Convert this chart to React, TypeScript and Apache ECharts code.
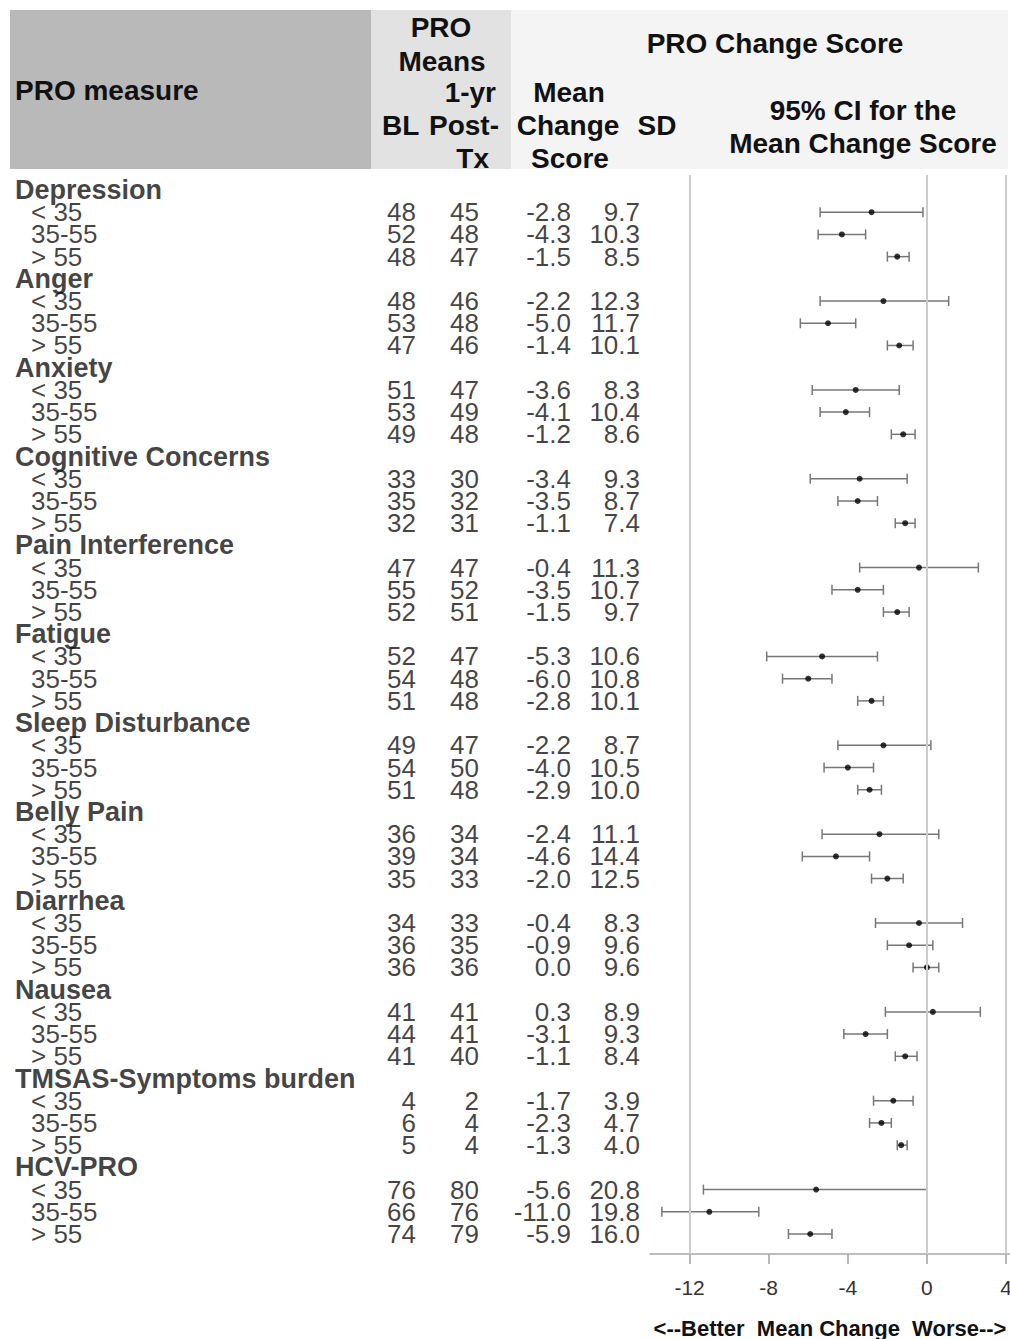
import React, { useEffect, useRef } from "react";
import * as echarts from "echarts";

// ---------- data ----------
const groups = [
  "Depression",
  "Anger",
  "Anxiety",
  "Cognitive Concerns",
  "Pain Interference",
  "Fatigue",
  "Sleep Disturbance",
  "Belly Pain",
  "Diarrhea",
  "Nausea",
  "TMSAS-Symptoms burden",
  "HCV-PRO",
];
const ageBands = ["< 35", "35-55", "> 55"];

const blMeans = [
  48, 52, 48, 48, 53, 47, 51, 53, 49, 33, 35, 32, 47, 55, 52, 52, 54, 51,
  49, 54, 51, 36, 39, 35, 34, 36, 36, 41, 44, 41, 4, 6, 5, 76, 66, 74,
];
const postMeans = [
  45, 48, 47, 46, 48, 46, 47, 49, 48, 30, 32, 31, 47, 52, 51, 47, 48, 48,
  47, 50, 48, 34, 34, 33, 33, 35, 36, 41, 41, 40, 2, 4, 4, 80, 76, 79,
];
const meanChange = [
  -2.8, -4.3, -1.5, -2.2, -5.0, -1.4, -3.6, -4.1, -1.2, -3.4, -3.5, -1.1,
  -0.4, -3.5, -1.5, -5.3, -6.0, -2.8, -2.2, -4.0, -2.9, -2.4, -4.6, -2.0,
  -0.4, -0.9, 0.0, 0.3, -3.1, -1.1, -1.7, -2.3, -1.3, -5.6, -11.0, -5.9,
];
const sdChange = [
  9.7, 10.3, 8.5, 12.3, 11.7, 10.1, 8.3, 10.4, 8.6, 9.3, 8.7, 7.4, 11.3,
  10.7, 9.7, 10.6, 10.8, 10.1, 8.7, 10.5, 10.0, 11.1, 14.4, 12.5, 8.3, 9.6,
  9.6, 8.9, 9.3, 8.4, 3.9, 4.7, 4.0, 20.8, 19.8, 16.0,
];
const ciLower = [
  -5.4, -5.5, -2.0, -5.4, -6.4, -2.0, -5.8, -5.4, -1.8, -5.9, -4.5, -1.6,
  -3.4, -4.8, -2.2, -8.1, -7.3, -3.5, -4.5, -5.2, -3.5, -5.3, -6.3, -2.8,
  -2.6, -2.0, -0.7, -2.1, -4.2, -1.6, -2.7, -2.9, -1.5, -11.3, -13.4, -7.0,
];
const ciUpper = [
  -0.2, -3.1, -0.9, 1.1, -3.6, -0.7, -1.4, -2.9, -0.6, -1.0, -2.5, -0.6,
  2.6, -2.2, -0.9, -2.5, -4.8, -2.2, 0.2, -2.7, -2.3, 0.6, -2.9, -1.2,
  1.8, 0.3, 0.6, 2.7, -2.0, -0.5, -0.7, -1.8, -1.0, 0.0, -8.5, -4.8,
];
const xTickValues = [-12, -8, -4, 0, 4];
const refLines = [-12, 0, 4];
const axisTitle = "<--Better  Mean Change  Worse-->";

// ---------- layout ----------
const FONT = "'Liberation Sans', Arial, Helvetica, sans-serif";
const Y_MIN = -0.675;
const Y_MAX = 47.9;
const GRID_TOP = 175;
const GRID_BOTTOM = 85;

// table rows built from arrays
const headerRows: any[] = [];
const subRows: any[] = [];
const blRows: any[] = [];
const postRows: any[] = [];
const meanRows: any[] = [];
const sdRows: any[] = [];
const ciRows: any[] = [];
const dotRows: any[] = [];
groups.forEach((g, gi) => {
  const hr = gi * 4;
  headerRows.push([15, hr, g]);
  ageBands.forEach((a, ai) => {
    const idx = gi * 3 + ai;
    const r = hr + 1 + ai;
    subRows.push([31, r, a]);
    blRows.push([416, r, String(blMeans[idx])]);
    postRows.push([479, r, String(postMeans[idx])]);
    meanRows.push([571, r, meanChange[idx].toFixed(1)]);
    sdRows.push([640, r, sdChange[idx].toFixed(1)]);
    ciRows.push([ciLower[idx], ciUpper[idx], r]);
    dotRows.push([meanChange[idx], r]);
  });
});

function textSeries(data: any[], pos: string, bold: boolean, size: number) {
  return {
    type: "scatter",
    xAxisIndex: 0,
    yAxisIndex: 0,
    symbolSize: 0,
    silent: true,
    data,
    label: {
      show: true,
      position: pos,
      distance: 0,
      formatter: (p: any) => p.data[2],
      fontFamily: FONT,
      fontSize: size,
      fontWeight: bold ? "bold" : "normal",
      color: "#111",
    },
  };
}

function hText(text: string, x: number, y: number, align: string) {
  return {
    type: "text",
    x,
    y,
    silent: true,
    style: {
      text,
      align,
      verticalAlign: "middle",
      fontFamily: FONT,
      fontSize: 28,
      fontWeight: "bold",
      fill: "#111",
    },
  };
}

export default function App() {
  const ref = useRef<HTMLDivElement>(null);
  useEffect(() => {
    if (!ref.current) return;
    const chart = echarts.init(ref.current, undefined, { renderer: "svg" });
    const option: any = {
      animation: false,
      backgroundColor: "#ffffff",
      grid: [
        { left: 0, top: GRID_TOP, width: 650, bottom: GRID_BOTTOM, outerBoundsMode: "none", containLabel: false },
        { left: 650, top: GRID_TOP, width: 360, bottom: GRID_BOTTOM, outerBoundsMode: "none", containLabel: false },
      ],
      xAxis: [
        { gridIndex: 0, type: "value", min: 0, max: 650, show: false },
        {
          gridIndex: 1,
          type: "value",
          min: -14,
          max: 4.2,
          splitLine: { show: false },
          axisLine: {
            show: true,
            onZero: false,
            lineStyle: { color: "#a8a8a8", width: 1.5 },
          },
          axisTick: {
            show: true,
            length: 10,
            customValues: xTickValues,
            lineStyle: { color: "#a0a0a0", width: 1.5 },
          },
          axisLabel: {
            customValues: xTickValues,
            fontFamily: FONT,
            fontSize: 21,
            color: "#333",
            margin: 23,
          },
          name: axisTitle,
          nameLocation: "middle",
          nameGap: 63,
          nameTextStyle: {
            fontFamily: FONT,
            fontSize: 22,
            fontWeight: "bold",
            color: "#111",
          },
        },
      ],
      yAxis: [
        { gridIndex: 0, type: "value", min: Y_MIN, max: Y_MAX, inverse: true, show: false },
        { gridIndex: 1, type: "value", min: Y_MIN, max: Y_MAX, inverse: true, show: false },
      ],
      graphic: [
        { type: "rect", shape: { x: 10, y: 10, width: 361, height: 159 }, style: { fill: "#b9b9b9" }, silent: true, z: -1 },
        { type: "rect", shape: { x: 371, y: 10, width: 140, height: 159 }, style: { fill: "#e2e2e2" }, silent: true, z: -1 },
        { type: "rect", shape: { x: 511, y: 10, width: 497, height: 159 }, style: { fill: "#f4f4f4" }, silent: true, z: -1 },
        hText("PRO measure", 15, 90, "left"),
        hText("PRO", 441, 27, "center"),
        hText("Means", 442, 61, "center"),
        hText("1-yr", 496, 92, "right"),
        hText("BL", 382, 125, "left"),
        hText("Post-", 499, 125, "right"),
        hText("Tx", 489, 158, "right"),
        hText("Mean", 569, 92, "center"),
        hText("Change", 568, 125, "center"),
        hText("Score", 570, 158, "center"),
        hText("SD", 657, 125, "center"),
        hText("PRO Change Score", 775, 43, "center"),
        hText("95% CI for the", 863, 110, "center"),
        hText("Mean Change Score", 863, 143, "center"),
      ],
      series: [
        textSeries(headerRows, "right", true, 27),
        textSeries(subRows, "right", false, 26),
        textSeries(blRows, "left", false, 26),
        textSeries(postRows, "left", false, 26),
        textSeries(meanRows, "left", false, 26),
        textSeries(sdRows, "left", false, 26),
        {
          type: "custom",
          xAxisIndex: 1,
          yAxisIndex: 1,
          silent: true,
          z: 3,
          data: ciRows,
          encode: { x: [0, 1], y: 2 },
          renderItem: (_params: any, api: any) => {
            const lo = api.coord([api.value(0), api.value(2)]);
            const hi = api.coord([api.value(1), api.value(2)]);
            const h = 5;
            const style = { stroke: "#777777", lineWidth: 1.5 };
            return {
              type: "group",
              children: [
                { type: "line", shape: { x1: lo[0], y1: lo[1], x2: hi[0], y2: hi[1] }, style },
                { type: "line", shape: { x1: lo[0], y1: lo[1] - h, x2: lo[0], y2: lo[1] + h }, style },
                { type: "line", shape: { x1: hi[0], y1: hi[1] - h, x2: hi[0], y2: hi[1] + h }, style },
              ],
            };
          },
          markLine: {
            silent: true,
            symbol: ["none", "none"],
            label: { show: false },
            lineStyle: { color: "#cccccc", width: 2, type: "solid" },
            data: refLines.map((v) => ({ xAxis: v })),
          },
        },
        {
          type: "scatter",
          xAxisIndex: 1,
          yAxisIndex: 1,
          silent: true,
          z: 4,
          symbol: "circle",
          symbolSize: 6,
          itemStyle: { color: "#000" },
          data: dotRows,
        },
      ],
    };
    chart.setOption(option);
    return () => chart.dispose();
  }, []);
  return (
    <div
      ref={ref}
      style={{ position: "absolute", left: 0, top: 0, width: 1010, height: 1339 }}
    />
  );
}
